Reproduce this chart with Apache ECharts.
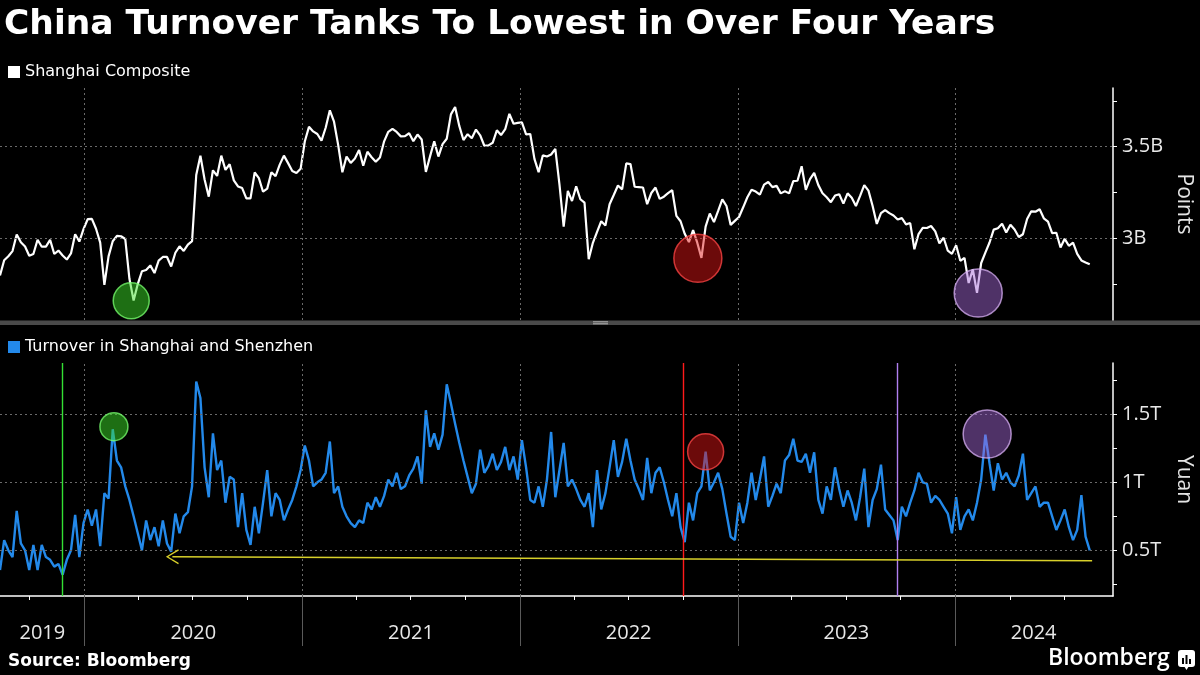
<!DOCTYPE html>
<html><head><meta charset="utf-8">
<script src="https://cdn.jsdelivr.net/npm/echarts@6/dist/echarts.min.js"></script>
<style>html,body{margin:0;padding:0;background:#000;}#chart{width:1200px;height:675px;}</style>
</head><body><div id="chart"></div>
<script>
// ---------------- data ----------------
const titleText = 'China Turnover Tanks To Lowest in Over Four Years';
const sourceText = 'Source: Bloomberg';
const indexName = 'Shanghai Composite';
const turnoverName = 'Turnover in Shanghai and Shenzhen';
const indexAxisName = 'Points';
const turnoverAxisName = 'Yuan';

// weekly samples, first one on this date, one every 7 days
const firstSampleDate = '2019-08-13';
const sampleStepDays = 7;

const shanghaiComposite = [
  2797, 2880, 2902, 2930, 3021, 2978, 2955, 2905, 2914, 2992,
  2954, 2954, 2991, 2914, 2933, 2906, 2884, 2917, 3022, 2982,
  3050, 3104, 3106, 3052, 2976, 2746, 2901, 2984, 3013, 3011,
  2996, 2779, 2660, 2750, 2820, 2827, 2852, 2810, 2878, 2898,
  2898, 2846, 2921, 2956, 2931, 2965, 2984, 3345, 3450, 3321,
  3227, 3371, 3340, 3451, 3373, 3404, 3316, 3283, 3274, 3218,
  3218, 3359, 3328, 3254, 3271, 3360, 3339, 3402, 3451, 3410,
  3367, 3356, 3379, 3528, 3608, 3583, 3569, 3533, 3603, 3698,
  3636, 3508, 3360, 3446, 3411, 3435, 3482, 3396, 3472, 3442,
  3418, 3441, 3529, 3581, 3597, 3580, 3556, 3557, 3573, 3530,
  3566, 3539, 3362, 3447, 3529, 3446, 3514, 3543, 3676, 3716,
  3613, 3536, 3568, 3546, 3593, 3562, 3505, 3507, 3521, 3589,
  3563, 3595, 3679, 3625, 3630, 3632, 3567, 3569, 3433, 3361,
  3452, 3446, 3457, 3488, 3293, 3064, 3259, 3203, 3283, 3213,
  3194, 2886, 2975, 3035, 3093, 3070, 3186, 3236, 3288, 3267,
  3409, 3405, 3281, 3279, 3277, 3186, 3247, 3277, 3215, 3227,
  3246, 3263, 3122, 3093, 3024, 2979, 3044, 2976, 2893, 3064,
  3135, 3088, 3149, 3212, 3176, 3073, 3095, 3116, 3169, 3224,
  3265, 3255, 3238, 3293, 3307, 3279, 3286, 3245, 3256, 3245,
  3312, 3314, 3393, 3264, 3323, 3357, 3290, 3246, 3224, 3197,
  3233, 3240, 3189, 3245, 3221, 3176, 3231, 3290, 3260, 3176,
  3078, 3137, 3154, 3137, 3124, 3102, 3110, 3076, 3083, 2940,
  3023, 3057, 3056, 3067, 3038, 2972, 3003, 2932, 2915, 2962,
  2877, 2893, 2756, 2830, 2702, 2865, 2922, 2977, 3047, 3055,
  3079, 3031, 3074, 3048, 3007, 3022, 3105, 3147, 3145, 3158,
  3109, 3091, 3028, 3030, 2950, 2997, 2959, 2976, 2915, 2879, 2868, 2858
];

// trillion yuan
const turnover = [
  0.355, 0.575, 0.50, 0.45, 0.79, 0.55, 0.50, 0.355, 0.54, 0.355,
  0.54, 0.45, 0.43, 0.38, 0.40, 0.32, 0.43, 0.50, 0.76, 0.45,
  0.70, 0.80, 0.68, 0.80, 0.53, 0.92, 0.88, 1.39, 1.16, 1.11,
  0.97, 0.87, 0.75, 0.625, 0.50, 0.72, 0.575, 0.67, 0.53, 0.72,
  0.55, 0.49, 0.77, 0.625, 0.75, 0.78, 0.97, 1.74, 1.62, 1.11,
  0.89, 1.36, 1.09, 1.16, 0.85, 1.04, 1.02, 0.67, 0.92, 0.65,
  0.54, 0.82, 0.625, 0.85, 1.09, 0.75, 0.92, 0.87, 0.72, 0.80,
  0.87, 0.97, 1.09, 1.27, 1.16, 0.97, 1.00, 1.02, 1.07, 1.30,
  0.92, 0.97, 0.82, 0.75, 0.70, 0.67, 0.72, 0.70, 0.85, 0.80,
  0.89, 0.82, 0.90, 1.02, 0.97, 1.07, 0.95, 0.97, 1.05, 1.10,
  1.19, 0.99, 1.53, 1.26, 1.36, 1.24, 1.35, 1.72, 1.58, 1.43,
  1.29, 1.16, 1.04, 0.92, 0.99, 1.24, 1.07, 1.12, 1.21, 1.09,
  1.15, 1.26, 1.09, 1.19, 1.02, 1.31, 1.11, 0.87, 0.85, 0.97,
  0.82, 1.02, 1.37, 0.89, 1.09, 1.29, 0.97, 1.02, 0.95, 0.87,
  0.82, 0.92, 0.67, 1.09, 0.80, 0.92, 1.11, 1.31, 1.04, 1.15,
  1.32, 1.16, 1.02, 0.95, 0.87, 1.18, 0.92, 1.07, 1.11, 1.00,
  0.87, 0.75, 0.92, 0.67, 0.56, 0.85, 0.72, 0.92, 0.97, 1.225,
  0.94, 1.00, 1.07, 0.95, 0.77, 0.60, 0.575, 0.85, 0.70, 0.85,
  1.07, 0.87, 1.02, 1.19, 0.82, 0.90, 0.99, 0.92, 1.16, 1.20,
  1.32, 1.16, 1.15, 1.21, 1.07, 1.22, 0.87, 0.77, 0.97, 0.87,
  1.11, 0.95, 0.82, 0.94, 0.85, 0.72, 0.89, 1.10, 0.67, 0.87,
  0.95, 1.13, 0.80, 0.76, 0.72, 0.575, 0.82, 0.75, 0.85, 0.94,
  1.07, 1.00, 0.99, 0.85, 0.90, 0.87, 0.82, 0.77, 0.625, 0.89,
  0.65, 0.75, 0.80, 0.72, 0.85, 1.02, 1.35, 1.14, 0.94, 1.14,
  1.02, 1.07, 1.00, 0.97, 1.05, 1.21, 0.87, 0.92, 0.97, 0.82,
  0.85, 0.85, 0.75, 0.65, 0.72, 0.80, 0.67, 0.575, 0.65, 0.905, 0.60, 0.50
];

// axes
const dateRange = ['2019-08-13', '2024-09-21'];
const yearLabels = ['2019', '2020', '2021', '2022', '2023', '2024'];
const yearLabelDates = ['2019-10-23', '2020-07-02', '2021-07-02', '2022-07-02', '2023-07-02', '2024-05-11'];
const yearBoundaries = ['2020-01-01', '2021-01-01', '2022-01-01', '2023-01-01', '2024-01-01'];
const quarterTicks = ['2019-10-01',
  '2020-01-01', '2020-04-01', '2020-07-01', '2020-10-01',
  '2021-01-01', '2021-04-01', '2021-07-01', '2021-10-01',
  '2022-01-01', '2022-04-01', '2022-07-01', '2022-10-01',
  '2023-01-01', '2023-04-01', '2023-07-01', '2023-10-01',
  '2024-01-01', '2024-04-01', '2024-07-01'];

const indexRange = [2554, 3820];
const indexLabelValues = [3000, 3500];
const indexLabels = ['3B', '3.5B'];
const indexTickValues = [2750, 3000, 3250, 3500, 3750];

const turnoverRange = [0.164, 1.877];
const turnoverLabelValues = [0.5, 1, 1.5];
const turnoverLabels = ['0.5T', '1T', '1.5T'];
const turnoverTickValues = [0.25, 0.5, 0.75, 1, 1.25, 1.5, 1.75];

// annotations: index lows (circled), turnover spikes at the same time (circled)
const indexLowDates = ['2020-03-20', '2022-10-26', '2024-02-08'];
const indexLowValues = [2659, 2891, 2701];
const turnoverSpikeDates = ['2020-02-20', '2022-11-08', '2024-02-23'];
const turnoverSpikeValues = [1.409, 1.225, 1.355];
// turnover lows marked with vertical lines
const turnoverLowDates = ['2019-11-26', '2022-10-01', '2023-09-25'];
// yellow arrow: from (date, value) to (date, value)
const arrowStart = ['2020-05-28', 0.453];
const arrowEnd = ['2024-08-17', 0.4235];

// ---------------- chart ----------------
function ts(s) { const p = s.split('-').map(Number); return new Date(p[0], p[1] - 1, p[2]).getTime(); }
const DAY = 86400000;
const t0 = ts(firstSampleDate);
const sampleDates = shanghaiComposite.map((_, i) => t0 + i * sampleStepDays * DAY);

const FONT = 'Open Sans';
const WIDE = 'DejaVu Sans';
const annotColors = [
  { fill: 'rgba(60,225,40,0.62)', border: 'rgba(120,255,110,0.95)', line: '#33e033' },
  { fill: 'rgba(225,20,20,0.60)', border: 'rgba(255,70,70,0.95)', line: '#ff1a1a' },
  { fill: 'rgba(165,105,215,0.60)', border: 'rgba(215,175,245,0.95)', line: '#b07ff0' }
];
const topSizes = [36, 48, 48];
const bottomSizes = [28, 36, 48];

const gridStyle = { color: '#6a6a6a', type: [2, 3], width: 1 };
const xMin = ts(dateRange[0]), xMax = ts(dateRange[1]);
const yearLabelTs = yearLabelDates.map(ts);

const chart = echarts.init(document.getElementById('chart'), null, { renderer: 'canvas' });
chart.setOption({
  backgroundColor: '#000',
  animation: false,
  textStyle: { fontFamily: FONT },
  title: [
    { text: titleText, left: 4, top: 8, padding: 0,
      textStyle: { color: '#fff', fontSize: 34.5, fontWeight: 'bold', fontFamily: WIDE } },
    { text: sourceText, left: 8, top: 653, padding: 0,
      textStyle: { color: '#fff', fontSize: 17, fontWeight: 'bold', fontFamily: WIDE } }
  ],
  legend: [
    { data: [indexName], left: 8, top: 64, padding: 0, icon: 'rect', itemWidth: 12, itemHeight: 12,
      selectedMode: false, textStyle: { color: '#fff', fontSize: 16, fontFamily: WIDE } },
    { data: [turnoverName], left: 8, top: 339, padding: 0, icon: 'rect', itemWidth: 12, itemHeight: 12,
      selectedMode: false, textStyle: { color: '#fff', fontSize: 16, fontFamily: WIDE } }
  ],
  grid: [
    { left: 0, top: 88, width: 1113, height: 232, outerBoundsMode: 'none' },
    { left: 0, top: 363, width: 1113, height: 233, outerBoundsMode: 'none' }
  ],
  xAxis: [
    { type: 'value', gridIndex: 0, min: xMin, max: xMax, show: false, splitLine: { show: false } },
    { type: 'value', gridIndex: 1, min: xMin, max: xMax, position: 'bottom',
      axisLine: { show: true, onZero: false, lineStyle: { color: '#fff', width: 1.5 } },
      axisTick: { show: true, customValues: quarterTicks.map(ts), length: 4, lineStyle: { color: '#fff' } },
      axisLabel: { show: true, customValues: yearLabelTs, margin: 27, color: '#e8e8e8', fontSize: 20, fontFamily: FONT,
        formatter: v => { const i = yearLabelTs.indexOf(v); return i >= 0 ? yearLabels[i] : ''; } },
      splitLine: { show: false } },
    { type: 'value', gridIndex: 1, min: xMin, max: xMax, position: 'bottom',
      axisLine: { show: false, onZero: false },
      axisTick: { show: true, customValues: yearBoundaries.map(ts), length: 50, lineStyle: { color: '#5a5a5a', width: 1 } },
      axisLabel: { show: false }, splitLine: { show: false } }
  ],
  yAxis: [
    { type: 'value', gridIndex: 0, position: 'right', min: indexRange[0], max: indexRange[1],
      axisLine: { show: true, onZero: false, lineStyle: { color: '#fff', width: 1.5 } },
      axisTick: { show: true, customValues: indexTickValues, length: 4, lineStyle: { color: '#fff' } },
      axisLabel: { customValues: indexLabelValues, margin: 9, color: '#e8e8e8', fontSize: 20, fontFamily: FONT,
        formatter: v => indexLabels[indexLabelValues.indexOf(v)] },
      splitLine: { show: false },
      name: indexAxisName, nameLocation: 'middle', nameRotate: -90, nameGap: 60,
      nameTextStyle: { color: '#e4e4e4', fontSize: 21, fontFamily: FONT } },
    { type: 'value', gridIndex: 1, position: 'right', min: turnoverRange[0], max: turnoverRange[1],
      axisLine: { show: true, onZero: false, lineStyle: { color: '#fff', width: 1.5 } },
      axisTick: { show: true, customValues: turnoverTickValues, length: 4, lineStyle: { color: '#fff' } },
      axisLabel: { customValues: turnoverLabelValues, margin: 9, color: '#e8e8e8', fontSize: 20, fontFamily: FONT,
        formatter: v => turnoverLabels[turnoverLabelValues.indexOf(v)] },
      splitLine: { show: false },
      name: turnoverAxisName, nameLocation: 'middle', nameRotate: -90, nameGap: 60,
      nameTextStyle: { color: '#e4e4e4', fontSize: 21, fontFamily: FONT } }
  ],
  series: [
    { type: 'line', xAxisIndex: 0, yAxisIndex: 0, data: [], z: 1, silent: true,
      markLine: { silent: true, symbol: ['none', 'none'], label: { show: false }, lineStyle: gridStyle,
        data: indexLabelValues.map(v => ({ yAxis: v })).concat(yearBoundaries.map(d => ({ xAxis: ts(d) }))) } },
    { type: 'line', xAxisIndex: 1, yAxisIndex: 1, data: [], z: 1, silent: true,
      markLine: { silent: true, symbol: ['none', 'none'], label: { show: false }, lineStyle: gridStyle,
        data: turnoverLabelValues.map(v => ({ yAxis: v })).concat(yearBoundaries.map(d => ({ xAxis: ts(d) }))) } },
    { type: 'line', xAxisIndex: 1, yAxisIndex: 1, data: [], z: 2, silent: true,
      markLine: { silent: true, symbol: ['none', 'none'], label: { show: false },
        data: turnoverLowDates.map((d, i) => ({ xAxis: ts(d), lineStyle: { color: annotColors[i].line, width: 1.4, type: 'solid', opacity: 1 } }))
          .concat([[
            { coord: [ts(arrowStart[0]), arrowStart[1]], symbol: 'path://M0,14 L8,0 L16,14 L14.7,14.8 L8,2.8 L1.3,14.8 Z', symbolSize: [15, 13] },
            { coord: [ts(arrowEnd[0]), arrowEnd[1]], symbol: 'none' }
          ]]),
        lineStyle: { color: '#d8d02a', width: 1.5, type: 'solid' },
        itemStyle: { color: '#d8d02a' } } },
    { name: indexName, type: 'line', xAxisIndex: 0, yAxisIndex: 0, z: 3,
      data: sampleDates.map((d, i) => [d, shanghaiComposite[i]]),
      showSymbol: false, symbol: 'none', color: '#ffffff',
      lineStyle: { color: '#ffffff', width: 2.2 } },
    { name: turnoverName, type: 'line', xAxisIndex: 1, yAxisIndex: 1, z: 3,
      data: sampleDates.map((d, i) => [d, turnover[i]]),
      showSymbol: false, symbol: 'none', color: '#2389ea',
      lineStyle: { color: '#2389ea', width: 2.4 } },
    { type: 'scatter', xAxisIndex: 0, yAxisIndex: 0, z: 5, silent: true,
      data: indexLowDates.map((d, i) => ({ value: [ts(d), indexLowValues[i]], symbolSize: topSizes[i],
        itemStyle: { color: annotColors[i].fill, borderColor: annotColors[i].border, borderWidth: 1.5 } })) },
    { type: 'scatter', xAxisIndex: 1, yAxisIndex: 1, z: 5, silent: true,
      data: turnoverSpikeDates.map((d, i) => ({ value: [ts(d), turnoverSpikeValues[i]], symbolSize: bottomSizes[i],
        itemStyle: { color: annotColors[i].fill, borderColor: annotColors[i].border, borderWidth: 1.5 } })) }
  ],
  graphic: [
    { type: 'rect', shape: { x: 0, y: 320.5, width: 1200, height: 4.5 }, style: { fill: '#4a4a4a' }, silent: true },
    { type: 'line', shape: { x1: 593, y1: 321.8, x2: 608, y2: 321.8 }, style: { stroke: '#b0b0b0', lineWidth: 1 }, silent: true },
    { type: 'line', shape: { x1: 593, y1: 323.8, x2: 608, y2: 323.8 }, style: { stroke: '#b0b0b0', lineWidth: 1 }, silent: true },
    { type: 'text', left: 1048, top: 647, silent: true,
      style: { text: 'Bloomberg', fill: '#fff', fontSize: 23, fontWeight: 600, fontFamily: FONT } },
    { type: 'group', left: 1178, top: 650, silent: true, children: [
      { type: 'rect', shape: { x: 0, y: 0, width: 17, height: 17, r: 3 }, style: { fill: '#fff' } },
      { type: 'polygon', shape: { points: [[6, 16], [11, 16], [8.5, 20]] }, style: { fill: '#fff' } },
      { type: 'rect', shape: { x: 4, y: 8, width: 2, height: 6 }, style: { fill: '#000' } },
      { type: 'rect', shape: { x: 7.5, y: 5, width: 2, height: 9 }, style: { fill: '#000' } },
      { type: 'rect', shape: { x: 11, y: 9, width: 2, height: 5 }, style: { fill: '#000' } }
    ] }
  ]
});
</script>
</body></html>
